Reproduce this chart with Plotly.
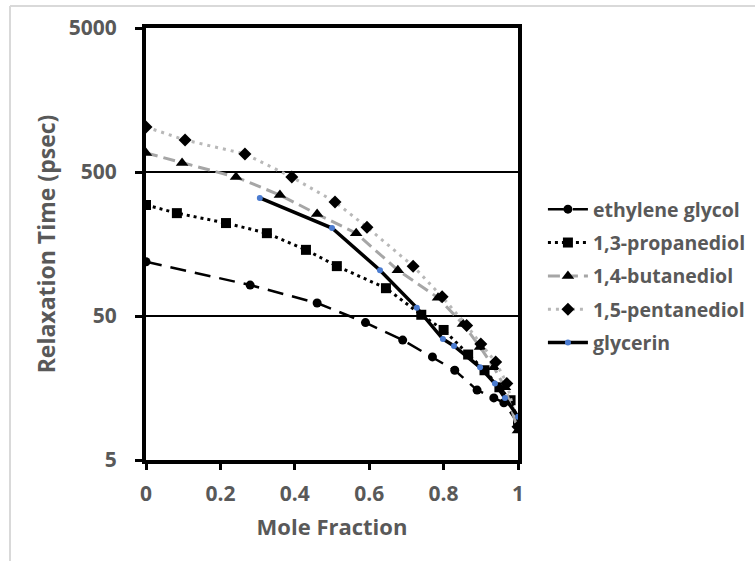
import plotly.graph_objects as go

# ---- data ----
eg_x = [0.0, 0.28, 0.46, 0.59, 0.69, 0.77, 0.83, 0.89, 0.935, 0.962, 1.0]
eg_y = [119, 82, 61.5, 45, 34, 26, 21, 15.3, 13.5, 12.5, 9]

pd13_x = [0.0, 0.083, 0.215, 0.325, 0.43, 0.513, 0.645, 0.74, 0.80, 0.866, 0.91, 0.95, 0.98, 1.0]
pd13_y = [295, 259, 221, 188, 144, 111, 78, 51, 40, 27, 21, 16, 13, 9.5]

bd14_x = [0.0, 0.097, 0.242, 0.36, 0.46, 0.565, 0.677, 0.785, 0.852, 0.898, 0.935, 0.965, 1.0]
bd14_y = [678, 578, 461, 346, 255, 188, 104, 67, 44, 30.5, 22, 16, 8]

pd15_x = [0.0, 0.105, 0.266, 0.392, 0.508, 0.594, 0.718, 0.796, 0.862, 0.90, 0.94, 0.97, 1.0]
pd15_y = [1027, 834, 667, 461, 310, 207, 111, 68, 43, 32, 24, 17, 8.5]

gl_x = [0.306, 0.50, 0.629, 0.728, 0.798, 0.828, 0.898, 0.938, 0.965, 1.0]
gl_y = [330, 204, 104, 57, 34.6, 31, 22, 17, 13.5, 10]

names = ["ethylene glycol", "1,3-propanediol", "1,4-butanediol", "1,5-pentanediol", "glycerin"]

y_ticks = [5, 50, 500, 5000]
y_ticktext = ["5", "50", "500", "5000"]
x_ticks = [0, 0.2, 0.4, 0.6, 0.8, 1]
x_ticktext = ["0", "0.2", "0.4", "0.6", "0.8", "1"]

FONT = "Open Sans"
GRAY_TXT = "#595959"

fig = go.Figure()

fig.add_trace(go.Scatter(
    x=eg_x, y=eg_y, name=names[0], mode="lines+markers", legendgroup="a",
    line=dict(color="black", width=2.5, dash="16px,9px"),
    marker=dict(symbol="circle", size=9, color="black")))
fig.add_trace(go.Scatter(
    x=pd13_x, y=pd13_y, name=names[1], mode="lines+markers", legendgroup="b",
    line=dict(color="black", width=3, dash="3px,4px"),
    marker=dict(symbol="square", size=10, color="black")))
fig.add_trace(go.Scatter(
    x=bd14_x, y=bd14_y, name=names[2], mode="lines+markers", legendgroup="c",
    line=dict(color="#a6a6a6", width=3, dash="12px,6px"),
    marker=dict(symbol="triangle-up", size=11, color="black")))
fig.add_trace(go.Scatter(
    x=pd15_x, y=pd15_y, name=names[3], mode="lines+markers", legendgroup="d",
    line=dict(color="#b8b8b8", width=3, dash="3px,5px"),
    marker=dict(symbol="diamond", size=10, color="black")))
fig.add_trace(go.Scatter(
    x=gl_x, y=gl_y, name=names[4], mode="lines+markers", legendgroup="e",
    line=dict(color="black", width=3.5),
    marker=dict(symbol="circle", size=6, color="#4a7bd0")))

fig.update_layout(
    width=755, height=561,
    margin=dict(l=146, r=237, t=28, b=101, autoexpand=False),
    paper_bgcolor="white", plot_bgcolor="white",
    font=dict(family=FONT, color=GRAY_TXT, size=18, weight="bold"),
    showlegend=True,
    legend=dict(
        x=1.067, y=0.625, xanchor="left", yanchor="top",
        font=dict(family=FONT, size=19.5, color=GRAY_TXT, weight="bold"),
        tracegroupgap=5, itemwidth=40, bgcolor="rgba(0,0,0,0)"),
    shapes=[
        dict(type="line", xref="paper", yref="paper", x0=-0.3656, x1=1.7, y0=1.0509, y1=1.0509,
             line=dict(color="#d9d9d9", width=2)),
        dict(type="line", xref="paper", yref="paper", x0=-0.3656, x1=-0.3656, y0=1.0509, y1=-0.3,
             line=dict(color="#d9d9d9", width=2)),
    ],
)

fig.update_xaxes(
    range=[0, 1], tickvals=x_ticks, ticktext=x_ticktext,
    showgrid=False, zeroline=False,
    showline=True, linecolor="black", linewidth=4, mirror=True,
    ticks="outside", ticklen=6, tickwidth=3, tickcolor="black",
    ticklabelstandoff=6,
    tickfont=dict(family=FONT, size=21, color=GRAY_TXT, weight="bold"),
    title=dict(text="Mole Fraction", standoff=14,
               font=dict(family=FONT, size=22, color=GRAY_TXT, weight="bold")),
)
fig.update_yaxes(
    type="log", range=[0.69897, 3.69897], tickvals=y_ticks, ticktext=y_ticktext,
    showgrid=True, gridcolor="black", gridwidth=1.8, zeroline=False,
    showline=True, linecolor="black", linewidth=4, mirror=True,
    ticks="outside", ticklen=7, tickwidth=3, tickcolor="black",
    ticklabelstandoff=14,
    tickfont=dict(family=FONT, size=21, color=GRAY_TXT, weight="bold"),
    title=dict(text="Relaxation Time (psec)", standoff=8,
               font=dict(family=FONT, size=23, color=GRAY_TXT, weight="bold")),
)

fig.write_html("out.html")
